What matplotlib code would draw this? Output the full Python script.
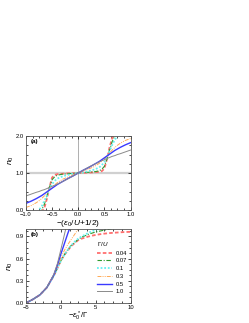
import numpy as np
import matplotlib
matplotlib.use('Agg')
import matplotlib.pyplot as plt
from matplotlib.ticker import MultipleLocator

plt.rcParams['font.family'] = ['Liberation Sans', 'DejaVu Sans']
plt.rcParams['mathtext.fontset'] = 'custom'
plt.rcParams['mathtext.rm'] = 'Liberation Sans'
plt.rcParams['mathtext.it'] = 'Liberation Sans:italic'

# ---- panel (a): n0 vs -(eps0/U + 1/2)
xa = [-1.0, -0.9, -0.8, -0.75, -0.7, -0.65, -0.6, -0.55, -0.5, -0.45, -0.4, -0.3, -0.2, -0.1,
      0.0, 0.1, 0.2, 0.3, 0.4, 0.45, 0.5, 0.55, 0.6, 0.65, 0.7, 0.75, 0.8, 0.9, 1.0]
na_004 = [-0.5, -0.4, -0.3, -0.15, -0.05, 0.05, 0.3, 0.62, 0.88, 0.95, 0.97, 0.98, 0.99, 0.995,
          1.0, 1.005, 1.01, 1.02, 1.03, 1.05, 1.12, 1.38, 1.7, 1.95, 2.05, 2.15, 2.3, 2.4, 2.5]
na_007 = [-0.4, -0.3, -0.2, -0.1, 0.0, 0.15, 0.38, 0.62, 0.82, 0.9, 0.94, 0.97, 0.98, 0.99,
          1.0, 1.01, 1.02, 1.03, 1.06, 1.1, 1.18, 1.38, 1.62, 1.85, 2.0, 2.1, 2.2, 2.3, 2.4]
na_01 = [-0.3, -0.2, -0.08, 0.0, 0.1, 0.24, 0.4, 0.57, 0.7, 0.79, 0.85, 0.91, 0.95, 0.98,
         1.0, 1.02, 1.05, 1.09, 1.15, 1.21, 1.3, 1.43, 1.6, 1.76, 1.9, 2.0, 2.08, 2.2, 2.3]
na_03 = [0.07, 0.12, 0.2, 0.25, 0.31, 0.38, 0.46, 0.54, 0.62, 0.68, 0.74, 0.83, 0.89, 0.95,
         1.0, 1.05, 1.11, 1.17, 1.26, 1.32, 1.38, 1.46, 1.54, 1.62, 1.69, 1.75, 1.8, 1.88, 1.93]
na_05 = [0.18, 0.24, 0.31, 0.35, 0.39, 0.44, 0.49, 0.54, 0.59, 0.64, 0.69, 0.77, 0.85, 0.92,
         1.0, 1.08, 1.15, 1.23, 1.31, 1.36, 1.41, 1.46, 1.51, 1.56, 1.61, 1.65, 1.69, 1.76, 1.82]
na_10 = [0.38, 0.43, 0.48, 0.5, 0.53, 0.55, 0.58, 0.61, 0.64, 0.67, 0.7, 0.77, 0.84, 0.92,
         1.0, 1.08, 1.16, 1.23, 1.3, 1.33, 1.36, 1.39, 1.42, 1.45, 1.47, 1.5, 1.52, 1.57, 1.62]

# ---- panel (b): n0 vs -eps0*/Gamma
xb_004 = [-5, -4, -3, -2, -1, -0.5, 0, 0.5, 1, 1.5, 2, 2.5, 3, 4, 5, 6, 7, 8, 9, 10]
nb_004 = [0.0, 0.05, 0.11, 0.21, 0.37, 0.47, 0.57, 0.65, 0.71, 0.77, 0.81, 0.85, 0.87,
          0.9, 0.92, 0.935, 0.945, 0.952, 0.958, 0.962]
xb_007 = [-5, -4, -3, -2, -1, -0.5, 0, 0.5, 1, 1.5, 2, 2.5, 3, 4, 5, 6, 7, 8]
nb_007 = [0.0, 0.05, 0.11, 0.21, 0.37, 0.47, 0.57, 0.65, 0.72, 0.78, 0.82, 0.86, 0.89,
          0.93, 0.96, 0.98, 1.0, 1.02]
xb_01 = [-5, -4, -3, -2, -1, -0.5, 0, 0.5, 1, 1.5, 2, 2.5, 3, 4, 5, 6]
nb_01 = [0.0, 0.05, 0.11, 0.21, 0.37, 0.47, 0.57, 0.65, 0.72, 0.78, 0.83, 0.87, 0.9,
         0.95, 0.99, 1.03]
xb_03 = [-5, -4, -3, -2, -1, -0.5, 0, 0.5, 1, 1.5, 2, 2.5, 3]
nb_03 = [0.0, 0.05, 0.11, 0.21, 0.38, 0.49, 0.61, 0.71, 0.79, 0.86, 0.93, 1.0, 1.07]
xb_05 = [-5, -4, -3, -2, -1, -0.5, 0, 0.5, 1, 1.5, 2]
nb_05 = [0.0, 0.05, 0.11, 0.21, 0.38, 0.51, 0.66, 0.8, 0.94, 1.07, 1.2]
xb_10 = [-5, -4, -3, -2, -1, -0.5, 0, 0.5, 1, 1.5]
nb_10 = [0.0, 0.05, 0.11, 0.21, 0.39, 0.53, 0.72, 0.92, 1.12, 1.32]

labels = ['0.04', '0.07', '0.1', '0.3', '0.5', '1.0']
colors = ['#ff6f6f', '#2e9a2e', '#66f0f0', '#ffaa55', '#3a3aff', '#8a8a8a']
styles = [(0, (2, 1.2)), (0, (4, 1.5, 1, 1.5)), (0, (1, 1)),
          (0, (4, 1.2, 1, 1.2, 1, 1.2)), '-', '-']
widths = [1.3, 0.8, 1.3, 0.7, 1.0, 0.7]

fig = plt.figure(figsize=(2.49, 3.23), dpi=100)
ax1 = fig.add_axes([0.1044, 0.3498, 0.4197, 0.2291])
ax2 = fig.add_axes([0.1044, 0.0619, 0.4197, 0.2291])

ax1.axhline(1.0, color='#d0d0d0', lw=1.6, zorder=0)
ax1.axvline(0.0, color='#909090', lw=0.5, zorder=0)
ya = [na_004, na_007, na_01, na_03, na_05, na_10]
for y, c, ls, lw in zip(ya, colors, styles, widths):
    ax1.plot(xa, y, color=c, ls=ls, lw=lw)
ax1.set_xlim(-1, 1)
ax1.set_ylim(0, 2)
ax1.xaxis.set_major_locator(MultipleLocator(0.5))
ax1.xaxis.set_minor_locator(MultipleLocator(0.125))
ax1.yaxis.set_major_locator(MultipleLocator(1.0))
ax1.yaxis.set_minor_locator(MultipleLocator(0.25))
ax1.xaxis.set_major_formatter('{x:.1f}')
ax1.yaxis.set_major_formatter('{x:.1f}')
ax1.set_xlabel(r'$-(\varepsilon_0/U$+1/2)', fontsize=6, labelpad=1)
ax1.set_ylabel(r'$n_0$', fontsize=6, labelpad=1)
ax1.yaxis.set_label_coords(-0.095, 0.67)
ax1.text(0.05, 0.9, '(a)', transform=ax1.transAxes, fontsize=4.5, fontweight='bold')

xb = [xb_004, xb_007, xb_01, xb_03, xb_05, xb_10]
yb = [nb_004, nb_007, nb_01, nb_03, nb_05, nb_10]
for x, y, c, ls, lw, lab in zip(xb, yb, colors, styles, widths, labels):
    ax2.plot(x, y, color=c, ls=ls, lw=lw, label=lab)
ax2.set_xlim(-5, 10)
ax2.set_ylim(0, 1.0)
ax2.xaxis.set_major_locator(MultipleLocator(5))
ax2.xaxis.set_minor_locator(MultipleLocator(1.25))
ax2.yaxis.set_major_locator(MultipleLocator(0.3))
ax2.yaxis.set_minor_locator(MultipleLocator(0.075))
ax2.yaxis.set_major_formatter('{x:.1f}')
ax2.set_xlabel(r'$-\varepsilon_0^*/\Gamma$', fontsize=5.5, labelpad=0)
ax2.set_ylabel(r'$n_0$', fontsize=6, labelpad=1)
ax2.yaxis.set_label_coords(-0.11, 0.5)
ax2.text(0.05, 0.9, '(b)', transform=ax2.transAxes, fontsize=4.5, fontweight='bold')
leg = ax2.legend(title=r'$\Gamma/U$', fontsize=4.2, title_fontsize=4.5, frameon=False,
                 loc='lower right', bbox_to_anchor=(1.0, 0.07), handlelength=2.6,
                 labelspacing=0.45, handletextpad=0.6, borderaxespad=0.2)
leg._legend_box.align = 'left'

for ax in (ax1, ax2):
    ax.tick_params(which='both', direction='in', top=True, right=True,
                   labelsize=4.2, width=0.5, pad=1.5)
    ax.tick_params(which='major', length=2.2)
    ax.tick_params(which='minor', length=1.2)
    for s in ax.spines.values():
        s.set_linewidth(0.6)
        s.set_color('#555555')

fig.savefig('out.png', dpi=100)
